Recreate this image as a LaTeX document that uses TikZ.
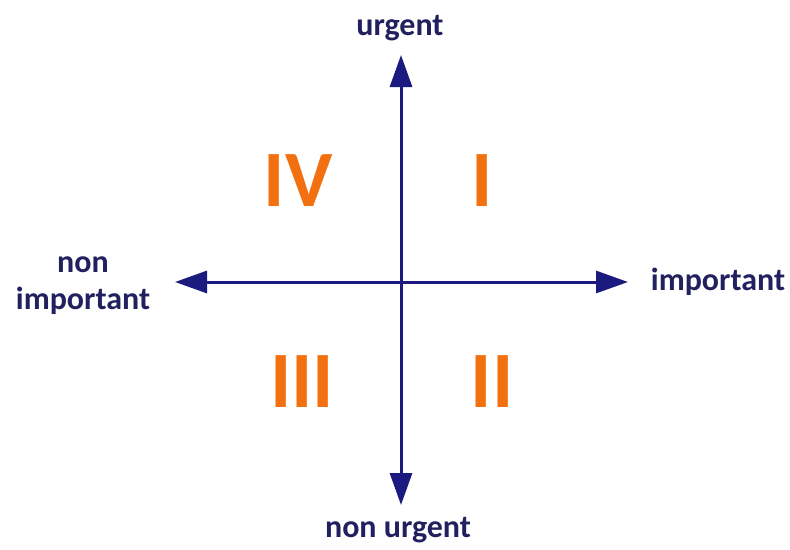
\documentclass[tikz,border=0pt]{standalone}
\usepackage{fontspec}
\setmainfont{Carlito}
\usetikzlibrary{arrows.meta}
\definecolor{navy}{HTML}{1B1A7E}
\definecolor{labelnavy}{HTML}{22205E}
\definecolor{quadorange}{HTML}{F2700F}
\begin{document}
\begin{tikzpicture}[x=1pt,y=-1pt,
  axis/.style={draw=navy,line width=3pt,-{Triangle[length=32pt,width=22pt]}},
  axislabel/.style={text=labelnavy,font=\fontsize{32}{37}\selectfont\bfseries,inner sep=0pt,align=center},
  quadnum/.style={text=quadorange,font=\fontsize{80}{80}\selectfont\bfseries,inner sep=0pt}]
\useasboundingbox (0,0) rectangle (790,549);
\coordinate (c) at (401,282);
\coordinate (top) at (401,55);
\coordinate (bot) at (401,505);
\coordinate (lft) at (175,282);
\coordinate (rgt) at (628,282);
\draw[axis] (c) -- (top);
\draw[axis] (c) -- (bot);
\draw[axis] (c) -- (lft);
\draw[axis] (c) -- (rgt);
\node[axislabel] (urg) at (400,28) {urgent};
\node[axislabel] (nurg) at (398,530) {non urgent};
\node[axislabel] (imp) at (718,282) {important};
\node[axislabel] (nimp) at (83,286) {non\\important};
\node[quadnum] (q4) at (298,181) {IV};
\node[quadnum] (q1) at (482,181) {I};
\node[quadnum] (q3) at (302,382) {III};
\node[quadnum] (q2) at (492,382) {II};
\end{tikzpicture}
\end{document}
